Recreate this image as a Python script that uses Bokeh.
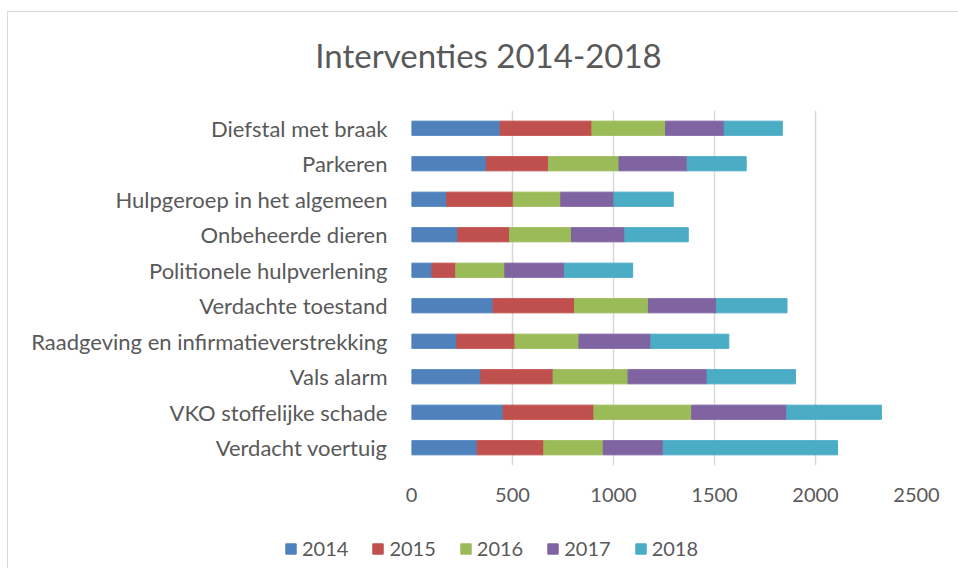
from bokeh.plotting import figure
from bokeh.layouts import column
from bokeh.models import FactorRange, Range1d, Legend, LegendItem, FixedTicker, Label
from bokeh.embed import file_html
from bokeh.resources import INLINE

categories = [
    "Diefstal met braak",
    "Parkeren",
    "Hulpgeroep in het algemeen",
    "Onbeheerde dieren",
    "Politionele hulpverlening",
    "Verdachte toestand",
    "Raadgeving en infirmatieverstrekking",
    "Vals alarm",
    "VKO stoffelijke schade",
    "Verdacht voertuig",
]
years = ["2014", "2015", "2016", "2017", "2018"]
v2014 = [439, 370, 174, 229, 101, 404, 224, 343, 454, 325]
v2015 = [454, 308, 330, 256, 118, 403, 288, 358, 449, 330]
v2016 = [365, 349, 235, 307, 243, 366, 317, 371, 484, 294]
v2017 = [290, 338, 263, 264, 295, 337, 356, 391, 471, 297]
v2018 = [288, 292, 294, 314, 338, 349, 386, 438, 468, 863]
x_ticks = [0, 500, 1000, 1500, 2000, 2500]
colors = ["#4F81BD", "#C0504D", "#9BBB59", "#8064A2", "#4BACC6"]
title_text = "Interventies 2014-2018"

FONT = "Lato"
TXT = "#595959"

data = {"cat": categories}
for y, vals in zip(years, [v2014, v2015, v2016, v2017, v2018]):
    data[y] = vals


def strip(height):
    f = figure(
        width=950, height=height, x_range=Range1d(0, 950), y_range=Range1d(0, height),
        output_backend="svg", toolbar_location=None, min_border=0,
    )
    f.frame_align = False
    f.axis.visible = False
    f.grid.grid_line_color = None
    f.outline_line_color = None
    return f


# title strip
tt = strip(98)
tt.add_layout(Label(
    x=480, y=56, text=title_text, text_align="center", text_baseline="middle",
    text_font=FONT, text_font_size="33px", text_color=TXT,
))

# main chart
p = figure(
    width=950, height=410,
    y_range=FactorRange(factors=list(reversed(categories))),
    x_range=Range1d(0, 2500),
    output_backend="svg", toolbar_location=None,
    min_border_left=403, min_border_right=42,
    min_border_top=0, min_border_bottom=55,
)
p.frame_align = False
p.hbar_stack(years, y="cat", height=0.4, color=colors, source=data)

p.outline_line_color = None
p.ygrid.grid_line_color = None
p.xgrid.grid_line_color = "#d9d9d9"
p.xgrid.grid_line_width = 1.5
p.xaxis.ticker = FixedTicker(ticks=x_ticks)
for ax in (p.xaxis[0], p.yaxis[0]):
    ax.axis_line_color = None
    ax.major_tick_line_color = None
    ax.minor_tick_line_color = None
    ax.major_label_text_font = FONT
    ax.major_label_text_color = TXT
p.xaxis.major_label_text_font_size = "20px"
p.yaxis.major_label_text_font_size = "22px"
p.yaxis.major_label_standoff = 18
p.xaxis.major_label_standoff = 16

# legend strip below the chart
lg = strip(48)
items = []
for y, c in zip(years, colors):
    # glyphs lie outside the visible range; they only feed the legend swatches
    r = lg.hbar(y=[500], right=[2000], left=[1900], height=1, color=c)
    items.append(LegendItem(label=y, renderers=[r]))
legend = Legend(
    items=items,
    orientation="horizontal",
    location=(276, 8),
    padding=0, margin=0, spacing=23,
    glyph_width=13, glyph_height=13, label_standoff=5,
    label_text_font=FONT, label_text_font_size="20px", label_text_color=TXT,
    border_line_color=None, background_fill_alpha=0,
)
lg.add_layout(legend, "center")

layout = column(tt, p, lg, spacing=0)
layout.margin = (11, 0, 0, 7)
layout.styles = {"border-top": "1px solid #d9d9d9", "border-left": "1px solid #d9d9d9"}

open("out.html", "w").write(file_html(layout, INLINE))
